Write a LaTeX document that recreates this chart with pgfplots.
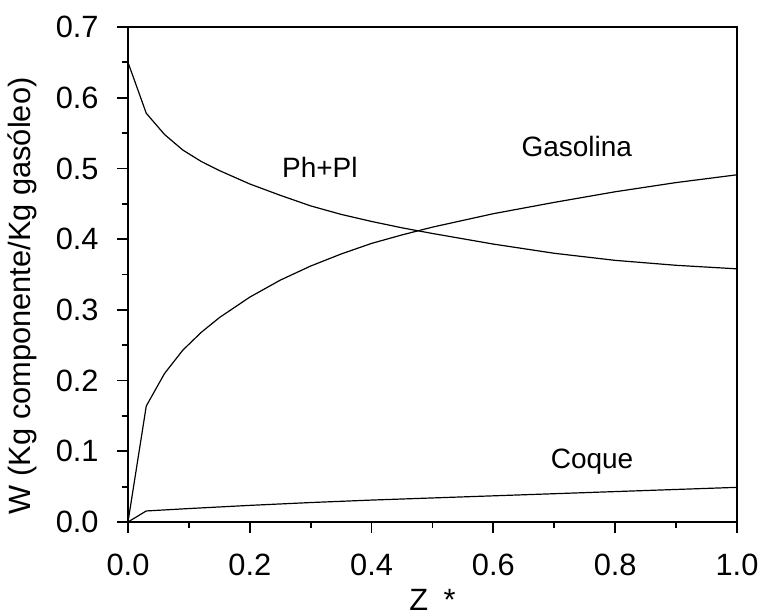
\documentclass[border=0pt]{standalone}
\usepackage{fontspec}
\setmainfont{Liberation Sans}
\usepackage{pgfplots}
\pgfplotsset{compat=1.18}
\begin{document}
\begin{tikzpicture}
\useasboundingbox (-64pt,-46pt) rectangle (317pt,261pt);
\begin{axis}[
  at={(0,0)}, anchor=south west,
  scale only axis, width=304.5pt, height=247.5pt,
  xmin=0, xmax=1, ymin=0, ymax=0.7,
  xtick={0,0.2,0.4,0.6,0.8,1.0},
  ytick={0,0.1,0.2,0.3,0.4,0.5,0.6,0.7},
  minor x tick num=1, minor y tick num=1,
  tick pos=left, tick align=outside,
  major tick length=5.5pt, minor tick length=3pt,
  every tick/.style={black, line width=0.9pt},
  axis line style={line width=0.8pt},
  clip=false,
  /pgf/number format/assume math mode=true,
  /pgf/number format/fixed, /pgf/number format/fixed zerofill, /pgf/number format/precision=1,
  xticklabel style={font=\fontsize{15.4}{18}\selectfont, inner sep=0pt, anchor=north, yshift=-10.5pt},
  yticklabel style={font=\fontsize{15.4}{18}\selectfont, inner sep=0pt, anchor=east, xshift=-9pt},
  xlabel={Z\hspace{0.5em}*},
  ylabel={W (Kg componente/Kg gasóleo)},
  every axis x label/.style={at={(axis description cs:0.5,-0.178)}, anchor=base, font=\fontsize{15.4}{18}\selectfont},
  every axis y label/.style={at={(axis description cs:-0.173,0.457)}, anchor=center, rotate=90, font=\fontsize{15.4}{18}\selectfont},
]
\addplot[black, line width=0.6pt] coordinates {
(0,0.650) (0.03,0.578) (0.06,0.548) (0.09,0.526) (0.12,0.510) (0.15,0.497)
(0.2,0.478) (0.25,0.462) (0.3,0.447) (0.35,0.435) (0.4,0.425) (0.45,0.416)
(0.5,0.408) (0.6,0.393) (0.7,0.380) (0.8,0.370) (0.9,0.363) (1.0,0.358)};
\addplot[black, line width=0.6pt] coordinates {
(0,0) (0.03,0.164) (0.06,0.210) (0.09,0.243) (0.12,0.268) (0.15,0.289)
(0.2,0.318) (0.25,0.342) (0.3,0.362) (0.35,0.379) (0.4,0.394) (0.45,0.406)
(0.5,0.417) (0.6,0.436) (0.7,0.452) (0.8,0.467) (0.9,0.480) (1.0,0.491)};
\addplot[black, line width=0.6pt] coordinates {
(0,0) (0.03,0.0156) (0.1,0.019) (0.2,0.0235) (0.3,0.0275) (0.4,0.031)
(0.5,0.034) (0.6,0.037) (0.7,0.040) (0.8,0.043) (0.9,0.046) (1.0,0.049)};
\draw[line width=1.1pt] (rel axis cs:0,1) -- (rel axis cs:0,0) -- (rel axis cs:1,0);
\node[font=\fontsize{14}{17}\selectfont] at (axis cs:0.315,0.502) {Ph+Pl};
\node[font=\fontsize{14}{17}\selectfont] at (axis cs:0.737,0.531) {Gasolina};
\node[font=\fontsize{14}{17}\selectfont] at (axis cs:0.762,0.085) {Coque};
\end{axis}
\end{tikzpicture}
\end{document}
